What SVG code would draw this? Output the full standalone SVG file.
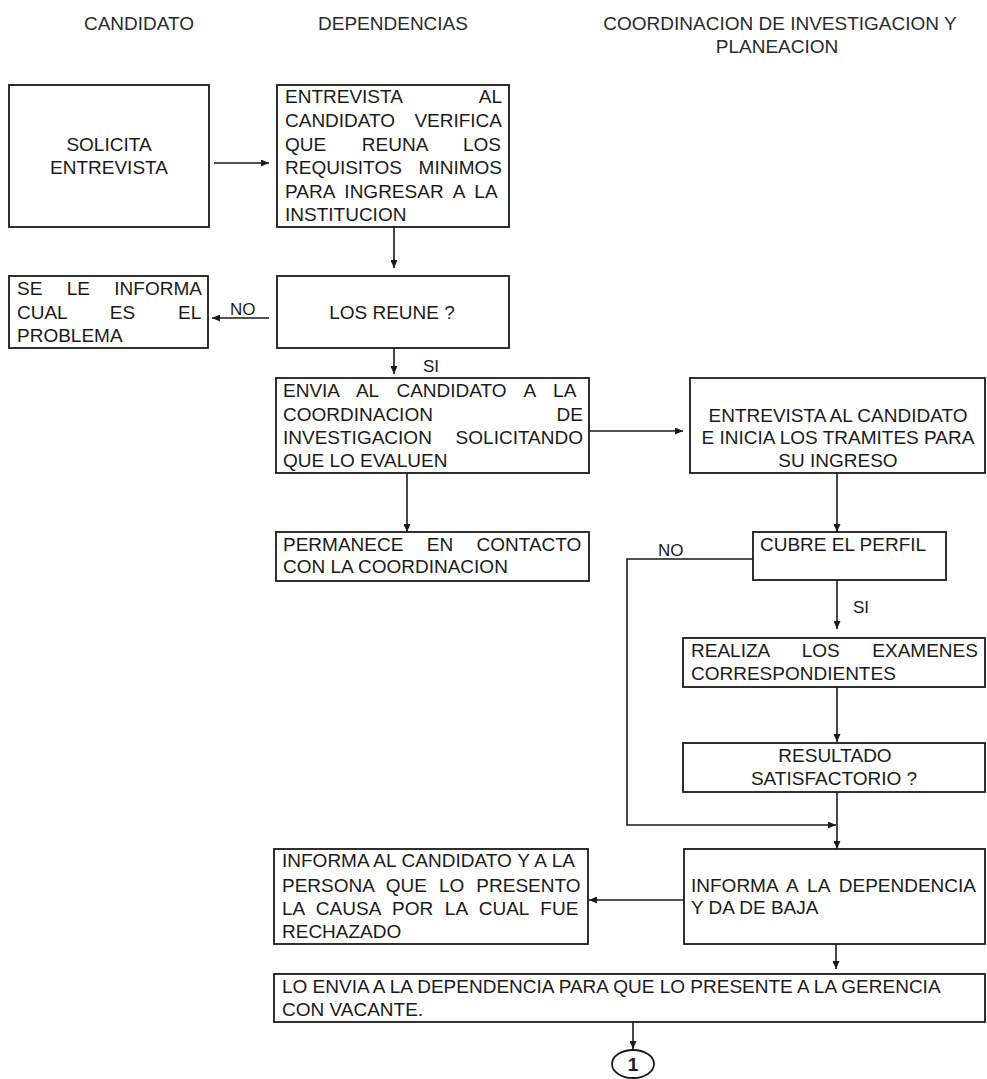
<svg xmlns="http://www.w3.org/2000/svg" width="987" height="1079" viewBox="0 0 987 1079">
  <defs>
    <marker id="arrow" markerUnits="userSpaceOnUse" markerWidth="8" markerHeight="7" refX="8" refY="3.5" orient="auto">
      <path d="M0,0 L8,3.5 L0,7 z" fill="#1a1a1a"/>
    </marker>
  </defs>
  <style>
    text { font-family: "Liberation Sans", Arial, sans-serif; font-size: 19px; fill: #1a1a1a; }
    .hdr { fill: #2a2a2a; }
    .box { fill: #ffffff; stroke: #1a1a1a; stroke-width: 1.8; }
    .c { text-anchor: middle; }
    .e { text-anchor: end; }
    .lbl { font-size: 17px; }
    .wire { fill: none; stroke: #1a1a1a; stroke-width: 1.6; }
    .arr { marker-end: url(#arrow); }
  </style>
  <rect width="987" height="1079" fill="#ffffff"/>

  <!-- column headings -->
  <g id="headers">
    <text class="hdr c" x="139" y="30">CANDIDATO</text>
    <text class="hdr c" x="393" y="30">DEPENDENCIAS</text>
    <text class="hdr c" x="780" y="30">COORDINACION DE INVESTIGACION Y</text>
    <text class="hdr c" x="777" y="53">PLANEACION</text>
  </g>

  <!-- connectors -->
  <g id="connectors">
    <path class="wire arr" d="M214,163 H269"/>
    <path class="wire arr" d="M394,227 V268"/>
    <path class="wire arr" d="M269,318 H212"/>
    <path class="wire arr" d="M394,348 V374"/>
    <path class="wire arr" d="M589,431 H683"/>
    <path class="wire arr" d="M407,473 V532"/>
    <path class="wire arr" d="M837,473 V532"/>
    <path class="wire arr" d="M753,559 H627 V825 H836"/>
    <path class="wire arr" d="M837,580 V629"/>
    <path class="wire arr" d="M837,687 V742"/>
    <path class="wire arr" d="M837,792 V849"/>
    <path class="wire arr" d="M684,900 H589"/>
    <path class="wire arr" d="M836,944 V969"/>
    <path class="wire arr" d="M633,1022 V1049"/>
    <text class="lbl" x="230" y="315">NO</text>
    <text class="lbl" x="423" y="372">SI</text>
    <text class="lbl" x="658" y="556">NO</text>
    <text class="lbl" x="853" y="613">SI</text>
  </g>

  <g id="solicita">
    <rect class="box" x="9" y="85" width="200" height="142"/>
    <text class="c" x="109" y="151">SOLICITA</text>
    <text class="c" x="109" y="174">ENTREVISTA</text>
  </g>

  <g id="entrevista-requisitos">
    <rect class="box" x="277" y="85" width="232" height="142"/>
    <text x="285" y="103">ENTREVISTA</text><text class="e" x="502" y="103">AL</text>
    <text x="285" y="127">CANDIDATO</text><text class="e" x="502" y="127">VERIFICA</text>
    <text x="285" y="151" word-spacing="30.4">QUE REUNA LOS</text>
    <text x="285" y="174">REQUISITOS</text><text class="e" x="502" y="174">MINIMOS</text>
    <text x="285" y="198" word-spacing="4.8">PARA INGRESAR A LA</text>
    <text x="285" y="221">INSTITUCION</text>
  </g>

  <g id="los-reune">
    <rect class="box" x="277" y="276" width="232" height="72"/>
    <text class="c" x="392" y="319">LOS REUNE ?</text>
  </g>

  <g id="informa-problema">
    <rect class="box" x="9" y="276" width="199" height="72"/>
    <text x="17" y="295" word-spacing="19.1">SE LE INFORMA</text>
    <text x="17" y="319" word-spacing="37.6">CUAL ES EL</text>
    <text x="17" y="342">PROBLEMA</text>
  </g>

  <g id="envia-coordinacion">
    <rect class="box" x="276" y="378" width="313" height="95"/>
    <text x="283" y="397" word-spacing="12.7">ENVIA AL CANDIDATO A LA</text>
    <text x="283" y="421">COORDINACION</text><text class="e" x="583" y="421">DE</text>
    <text x="283" y="444">INVESTIGACION</text><text class="e" x="583" y="444">SOLICITANDO</text>
    <text x="283" y="467">QUE LO EVALUEN</text>
  </g>

  <g id="permanece">
    <rect class="box" x="276" y="532" width="313" height="49"/>
    <text x="283" y="551" word-spacing="18.1">PERMANECE EN CONTACTO</text>
    <text x="283" y="573">CON LA COORDINACION</text>
  </g>

  <g id="entrevista-tramites">
    <rect class="box" x="690" y="378" width="295" height="95"/>
    <text class="c" x="838" y="422">ENTREVISTA AL CANDIDATO</text>
    <text class="c" x="838" y="444">E INICIA LOS TRAMITES PARA</text>
    <text class="c" x="838" y="467">SU INGRESO</text>
  </g>

  <g id="cubre-perfil">
    <rect class="box" x="753" y="532" width="193" height="48"/>
    <text x="760" y="551">CUBRE EL PERFIL</text>
  </g>

  <g id="examenes">
    <rect class="box" x="683" y="638" width="302" height="49"/>
    <text x="691" y="657" word-spacing="27.3">REALIZA LOS EXAMENES</text>
    <text x="691" y="680">CORRESPONDIENTES</text>
  </g>

  <g id="resultado">
    <rect class="box" x="683" y="743" width="302" height="49"/>
    <text class="c" x="835" y="762">RESULTADO</text>
    <text class="c" x="834" y="785">SATISFACTORIO ?</text>
  </g>

  <g id="informa-dependencia">
    <rect class="box" x="684" y="849" width="301" height="95"/>
    <text x="691" y="892" word-spacing="4.2">INFORMA A LA DEPENDENCIA</text>
    <text x="691" y="914">Y DA DE BAJA</text>
  </g>

  <g id="informa-candidato">
    <rect class="box" x="274" y="849" width="314" height="95"/>
    <text x="282" y="867" word-spacing="0.5">INFORMA AL CANDIDATO Y A LA</text>
    <text x="282" y="892" word-spacing="6.7">PERSONA QUE LO PRESENTO</text>
    <text x="282" y="915" word-spacing="6.4">LA CAUSA POR LA CUAL FUE</text>
    <text x="282" y="938">RECHAZADO</text>
  </g>

  <g id="envia-gerencia">
    <rect class="box" x="274" y="974" width="711" height="48"/>
    <text x="282" y="993">LO ENVIA A LA DEPENDENCIA PARA QUE LO PRESENTE A LA GERENCIA</text>
    <text x="282" y="1016">CON VACANTE.</text>
  </g>

  <g id="conector-1">
    <ellipse cx="633" cy="1064" rx="21" ry="14" fill="#ffffff" stroke="#1a1a1a" stroke-width="1.8"/>
    <text class="c" x="633" y="1071" font-weight="bold" style="font-size:19px">1</text>
  </g>
</svg>
